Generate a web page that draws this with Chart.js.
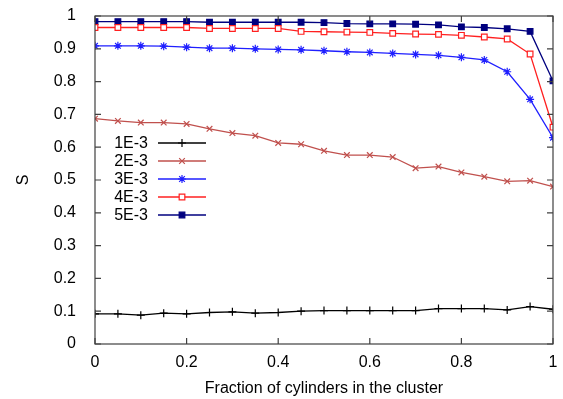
<!DOCTYPE html>
<html>
<head>
<meta charset="utf-8">
<script src="https://cdn.jsdelivr.net/npm/chart.js@4"></script>
<style>
  html, body { margin: 0; padding: 0; background: #fff; }
  #wrap { width: 563px; height: 399px; }
</style>
</head>
<body>
<div id="wrap"><canvas id="chart" width="563" height="399"></canvas></div>
<script>
// x positions (fraction of cylinders in the cluster)
const fractions = [0, 0.05, 0.1, 0.15, 0.2, 0.25, 0.3, 0.35, 0.4, 0.45, 0.5,
  0.55, 0.6, 0.65, 0.7, 0.75, 0.8, 0.85, 0.9, 0.95, 1];

const seriesLabels = ["1E-3", "2E-3", "3E-3", "4E-3", "5E-3"];

const s1e3 = [0.092, 0.092, 0.088, 0.094, 0.092, 0.096, 0.098, 0.094, 0.096, 0.1, 0.102,
  0.102, 0.102, 0.102, 0.102, 0.108, 0.108, 0.108, 0.104, 0.114, 0.106];
const s2e3 = [0.687, 0.680, 0.675, 0.675, 0.671, 0.656, 0.643, 0.635, 0.613, 0.609, 0.589,
  0.576, 0.576, 0.570, 0.536, 0.541, 0.523, 0.510, 0.496, 0.498, 0.480];
const s3e3 = [0.909, 0.909, 0.909, 0.908, 0.905, 0.902, 0.902, 0.900, 0.898, 0.897, 0.894,
  0.891, 0.889, 0.886, 0.883, 0.880, 0.874, 0.866, 0.830, 0.746, 0.629];
const s4e3 = [0.965, 0.965, 0.965, 0.965, 0.965, 0.962, 0.962, 0.962, 0.962, 0.953, 0.952,
  0.951, 0.950, 0.947, 0.945, 0.944, 0.941, 0.936, 0.930, 0.884, 0.661];
const s5e3 = [0.983, 0.983, 0.983, 0.983, 0.983, 0.981, 0.981, 0.981, 0.981, 0.981, 0.980,
  0.977, 0.976, 0.976, 0.975, 0.973, 0.967, 0.965, 0.961, 0.953, 0.802];

const xTicks = [0, 0.2, 0.4, 0.6, 0.8, 1];
const yTicks = [0, 0.1, 0.2, 0.3, 0.4, 0.5, 0.6, 0.7, 0.8, 0.9, 1];

const FONT = "'Liberation Sans', Arial, sans-serif";

function toPoints(values) {
  return values.map((v, i) => ({ x: fractions[i], y: v }));
}

const styles = [
  { color: "#000000", point: "cross", fill: "#000000" },
  { color: "#c0504d", point: "crossRot", fill: "#c0504d" },
  { color: "#1f1fff", point: "star", fill: "#1f1fff" },
  { color: "#ff2020", point: "rect", fill: "#ffffff" },
  { color: "#00007f", point: "rect", fill: "#00007f" },
];

const allSeries = [s1e3, s2e3, s3e3, s4e3, s5e3];

const datasets = allSeries.map((values, i) => ({
  label: seriesLabels[i],
  data: toPoints(values),
  borderColor: styles[i].color,
  backgroundColor: styles[i].fill,
  pointBorderColor: styles[i].color,
  pointBackgroundColor: styles[i].fill,
  pointStyle: styles[i].point,
  pointRadius: 4,
  pointBorderWidth: 1.2,
  borderWidth: 1.3,
  tension: 0,
  fill: false,
}));

// gnuplot-like frame with inward ticks on all four sides
const framePlugin = {
  id: "frame",
  afterDraw(chart) {
    const { ctx, chartArea: a, scales } = chart;
    ctx.save();
    ctx.strokeStyle = "#404040";
    ctx.lineWidth = 1.2;
    ctx.strokeRect(a.left, a.top, a.right - a.left, a.bottom - a.top);
    const len = 6;
    ctx.beginPath();
    xTicks.forEach((t) => {
      const px = scales.x.getPixelForValue(t);
      ctx.moveTo(px, a.bottom); ctx.lineTo(px, a.bottom - len);
      ctx.moveTo(px, a.top); ctx.lineTo(px, a.top + len);
    });
    yTicks.forEach((t) => {
      const py = scales.y.getPixelForValue(t);
      ctx.moveTo(a.left, py); ctx.lineTo(a.left + len, py);
      ctx.moveTo(a.right, py); ctx.lineTo(a.right - len, py);
    });
    ctx.stroke();
    ctx.restore();
  },
};

// legend inside the plot: label on the left, line sample on the right
const legendPlugin = {
  id: "insideLegend",
  afterDatasetsDraw(chart) {
    const { ctx } = chart;
    const textRight = 148;
    const x0 = 158, x1 = 206;
    const top = 143, step = 18;
    ctx.save();
    ctx.font = "16px " + FONT;
    ctx.textAlign = "right";
    ctx.textBaseline = "middle";
    chart.data.datasets.forEach((ds, i) => {
      const y = top + i * step;
      ctx.fillStyle = "#000";
      ctx.fillText(ds.label, textRight, y + 1);
      ctx.strokeStyle = ds.borderColor;
      ctx.lineWidth = ds.borderWidth;
      ctx.beginPath();
      ctx.moveTo(x0, y); ctx.lineTo(x1, y);
      ctx.stroke();
      ctx.fillStyle = ds.pointBackgroundColor;
      ctx.strokeStyle = ds.pointBorderColor;
      ctx.lineWidth = ds.pointBorderWidth;
      Chart.helpers.drawPoint(ctx, {
        pointStyle: ds.pointStyle,
        rotation: 0,
        radius: ds.pointRadius,
        borderWidth: ds.pointBorderWidth,
      }, (x0 + x1) / 2, y);
    });
    ctx.restore();
  },
};

new Chart(document.getElementById("chart"), {
  type: "line",
  data: { datasets },
  options: {
    responsive: false,
    animation: false,
    layout: { padding: { top: 16, right: 10, left: 0, bottom: 0 } },
    plugins: {
      legend: { display: false },
      tooltip: { enabled: false },
    },
    scales: {
      x: {
        type: "linear",
        min: 0,
        max: 1,
        grid: { display: false },
        border: { display: false },
        afterBuildTicks: (scale) => { scale.ticks = xTicks.map((v) => ({ value: v })); },
        afterFit: (scale) => { scale.height = 55; },
        ticks: {
          color: "#000",
          font: { family: FONT, size: 16 },
          padding: 1,
          maxRotation: 0,
          callback: (v) => String(v),
        },
        title: {
          display: true,
          text: "Fraction of cylinders in the cluster",
          color: "#000",
          font: { family: FONT, size: 16 },
          padding: { top: 2, bottom: 1 },
        },
      },
      y: {
        min: 0,
        max: 1,
        grid: { display: false },
        border: { display: false },
        afterBuildTicks: (scale) => { scale.ticks = yTicks.map((v) => ({ value: v })); },
        afterFit: (scale) => {
          scale.width = 95;
          scale.paddingTop = 0;
          scale.paddingBottom = 0;
        },
        ticks: {
          color: "#000",
          font: { family: FONT, size: 16 },
          padding: 11,
          callback: (v) => String(v),
        },
        title: {
          display: true,
          text: "S",
          color: "#000",
          font: { family: FONT, size: 16 },
          padding: { top: 14, bottom: 0 },
        },
      },
    },
  },
  plugins: [framePlugin, legendPlugin],
});
</script>
</body>
</html>
